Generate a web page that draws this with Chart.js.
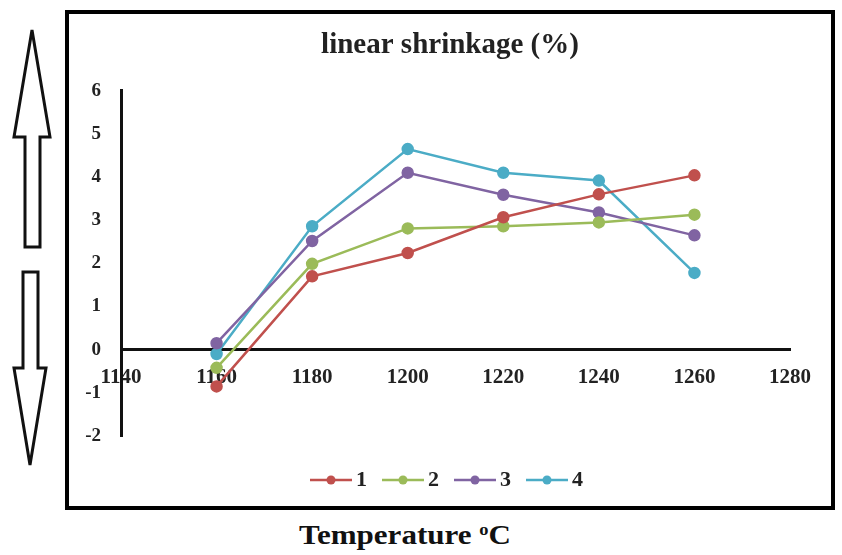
<!DOCTYPE html>
<html>
<head>
<meta charset="utf-8">
<script src="https://cdn.jsdelivr.net/npm/chart.js@4.4.0/dist/chart.umd.min.js"></script>
<style>
  html, body { margin: 0; padding: 0; background: #fff; }
  body { width: 842px; height: 555px; position: relative; overflow: hidden; }
  #frame { position: absolute; left: 65px; top: 10px; width: 762px; height: 492px; border: 4px solid #000; }
  #arrows { position: absolute; left: 0; top: 0; }
  #xtitle { position: absolute; left: 205px; width: 400px; top: 520px; text-align: center;
    font: bold 27px "Liberation Serif", serif; color: #111; transform: scaleX(1.15); }
  #xtitle sup { font-size: 16px; vertical-align: 9px; }
</style>
</head>
<body>
<svg id="arrows" width="64" height="555">
  <polygon points="32,30 50,137 40,137 40,247 25,247 25,137 14,137" fill="#fff" stroke="#111" stroke-width="3" stroke-linejoin="miter"/>
  <polygon points="23,272 38,272 38,368 46,368 30,465 14,368 23,368" fill="#fff" stroke="#111" stroke-width="3" stroke-linejoin="miter"/>
</svg>
<div id="frame"><canvas id="shrinkChart" width="762" height="492"></canvas></div>
<div id="xtitle">Temperature <sup>o</sup>C</div>
<script>
// datos
const temperaturas = [1160, 1180, 1200, 1220, 1240, 1260];
const serie1 = [-0.85, 1.70, 2.24, 3.07, 3.60, 4.04];
const serie2 = [-0.42, 1.99, 2.81, 2.86, 2.95, 3.13];
const serie3 = [0.15, 2.52, 4.10, 3.59, 3.18, 2.65];
const serie4 = [-0.10, 2.86, 4.65, 4.10, 3.92, 1.78];
const nombres = ['1', '2', '3', '4'];
const colores = ['#C0504D', '#9BBB59', '#8064A2', '#4BACC6'];
const xTicks = [1140, 1160, 1180, 1200, 1220, 1240, 1260, 1280];
const yTicks = [-2, -1, 0, 1, 2, 3, 4, 5, 6];

const serif = "'Liberation Serif', 'Times New Roman', serif";

// marcador de leyenda: línea con punto (la imagen sobresale a la izquierda)
function marcador(color) {
    const c = document.createElement('canvas');
    c.width = 53; c.height = 12;
    const g = c.getContext('2d');
    g.strokeStyle = color; g.lineWidth = 2.5;
    g.beginPath(); g.moveTo(0, 6); g.lineTo(42, 6); g.stroke();
    g.fillStyle = color;
    g.beginPath(); g.arc(21, 6, 4.5, 0, Math.PI * 2); g.fill();
    return c;
}

const series = [serie1, serie2, serie3, serie4];
const datasets = series.map(function (vals, i) {
    return {
        label: nombres[i],
        yAxisID: 'y',
        data: vals.map(function (v, j) { return { x: temperaturas[j], y: v }; }),
        borderColor: colores[i],
        backgroundColor: colores[i],
        pointBackgroundColor: colores[i],
        pointBorderColor: colores[i],
        pointRadius: 5,
        borderWidth: 2.5,
        tension: 0
    };
});
const marcadores = colores.map(marcador);

new Chart(document.getElementById('shrinkChart'), {
    type: 'line',
    data: { datasets: datasets },
    options: {
        responsive: false,
        animation: false,
        layout: { padding: { left: 0, right: 0, top: 0, bottom: 5 } },
        scales: {
            x: {
                type: 'linear',
                position: { y: 0 },
                min: 1140, max: 1280,
                afterBuildTicks: function (s) { s.ticks = xTicks.map(function (v) { return { value: v }; }); },
                grid: { display: false },
                border: { display: true, color: '#111', width: 3 },
                ticks: {
                    color: '#222', padding: 7,
                    font: { family: serif, size: 21, weight: 'bold' },
                    callback: function (v) { return String(v); }
                }
            },
            y: {
                position: 'left',
                min: -2, max: 6,
                afterBuildTicks: function (s) { s.ticks = yTicks.map(function (v) { return { value: v }; }); },
                afterFit: function (s) { s.width = 52; },
                grid: { display: false },
                border: { display: true, color: '#111', width: 3 },
                ticks: { color: '#222', padding: 12, font: { family: serif, size: 19, weight: 'bold' } }
            },
            // eje vacío a la derecha, solo para reservar espacio
            y2: {
                position: 'right',
                min: -2, max: 6,
                afterFit: function (s) { s.width = 41; },
                grid: { display: false },
                border: { display: false },
                ticks: { display: false }
            }
        },
        plugins: {
            title: {
                display: true,
                text: 'linear shrinkage (%)',
                color: '#222',
                font: { family: serif, size: 29, weight: 'bold' },
                padding: { top: 14, bottom: 28 }
            },
            legend: {
                position: 'bottom',
                fullSize: false,
                labels: {
                    usePointStyle: true,
                    pointStyleWidth: 17,
                    padding: 33,
                    color: '#222',
                    font: { family: serif, size: 22, weight: 'bold' },
                    generateLabels: function (chart) {
                        const items = Chart.defaults.plugins.legend.labels.generateLabels(chart);
                        items.forEach(function (it, i) { it.pointStyle = marcadores[i]; });
                        return items;
                    }
                }
            },
            tooltip: { enabled: false }
        }
    }
});
</script>
</body>
</html>
